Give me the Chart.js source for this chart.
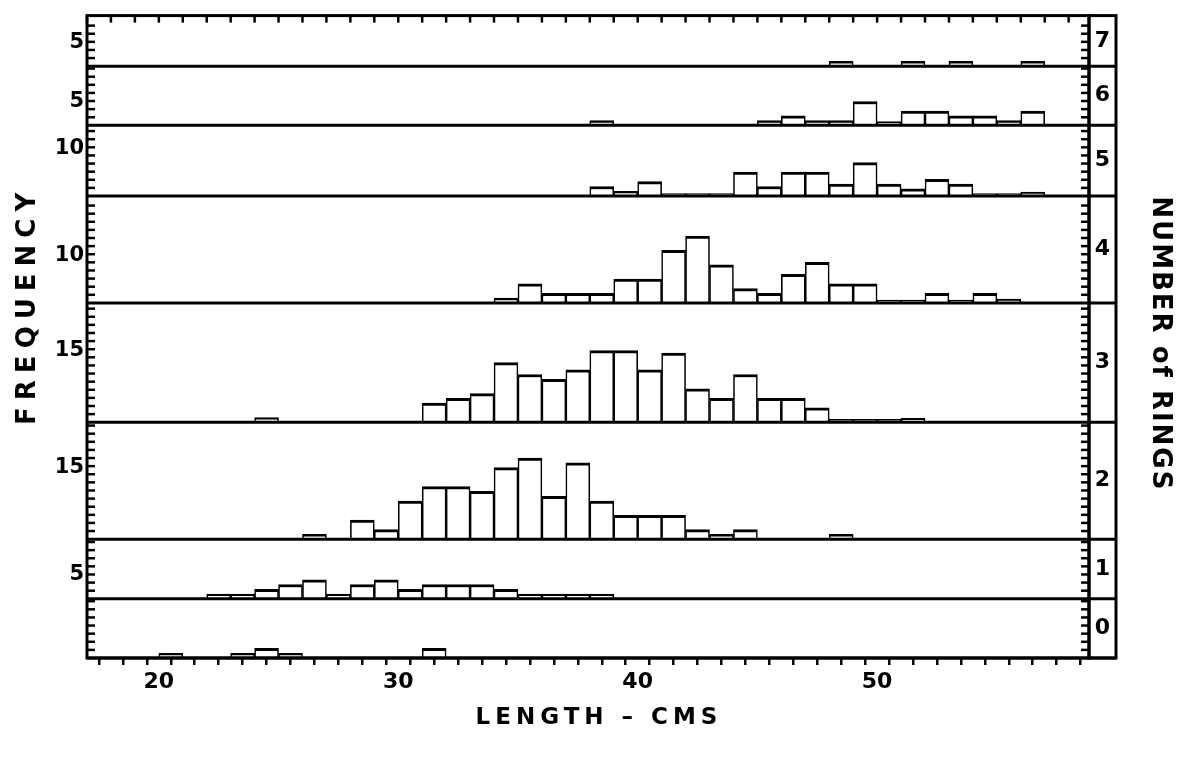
<!DOCTYPE html>
<html>
<head>
<meta charset="utf-8">
<title>Length frequency by number of rings</title>
<script src="https://cdn.jsdelivr.net/npm/chart.js@4.4.0/dist/chart.umd.min.js"></script>
<style>
  html, body { margin: 0; padding: 0; background: #fff; }
  #wrap { width: 1198px; height: 757px; }
</style>
</head>
<body>
<div id="wrap"><canvas id="ringChart" width="1198" height="757"></canvas></div>
<script>
// lower edge of each 1 cm length class
const lengthBins = [17, 18, 19, 20, 21, 22, 23, 24, 25, 26,
                    27, 28, 29, 30, 31, 32, 33, 34, 35, 36,
                    37, 38, 39, 40, 41, 42, 43, 44, 45, 46,
                    47, 48, 49, 50, 51, 52, 53, 54, 55, 56,
                    57, 58];

// frequency in each length class, one list per number of rings
//             17-26                          27-36                          37-46                              47-56                                 57-58
const ring0 = [0, 0, 0, 1, 0, 0, 1, 2, 1, 0,  0, 0, 0, 0, 2, 0, 0, 0, 0, 0,  0, 0, 0, 0, 0, 0, 0, 0, 0, 0,    0, 0, 0, 0, 0, 0, 0, 0, 0, 0,         0, 0];
const ring1 = [0, 0, 0, 0, 0, 1, 1, 2, 3, 4,  1, 3, 4, 2, 3, 3, 3, 2, 1, 1,  1, 1, 0, 0, 0, 0, 0, 0, 0, 0,    0, 0, 0, 0, 0, 0, 0, 0, 0, 0,         0, 0];
const ring2 = [0, 0, 0, 0, 0, 0, 0, 0, 0, 1,  0, 4, 2, 8, 11, 11, 10, 15, 17, 9,  16, 8, 5, 5, 5, 2, 1, 2, 0, 0,  0, 1, 0, 0, 0, 0, 0, 0, 0, 0,   0, 0];
const ring3 = [0, 0, 0, 0, 0, 0, 0, 1, 0, 0,  0, 0, 0, 0, 4, 5, 6, 12.5, 10, 9,  11, 15, 15, 11, 14.5, 7, 5, 10, 5, 5,  3, 0.6, 0.6, 0.6, 0.8, 0, 0, 0, 0, 0,  0, 0];
const ring4 = [0, 0, 0, 0, 0, 0, 0, 0, 0, 0,  0, 0, 0, 0, 0, 0, 0, 1, 4, 2,  2, 2, 5, 5, 11, 14, 8, 3, 2, 6,  8.5, 4, 4, 0.6, 0.6, 2, 0.6, 2, 0.8, 0,  0, 0];
const ring5 = [0, 0, 0, 0, 0, 0, 0, 0, 0, 0,  0, 0, 0, 0, 0, 0, 0, 0, 0, 0,  0, 2, 1, 3, 0.5, 0.5, 0.5, 5, 2, 5,  5, 2.5, 7, 2.5, 1.5, 3.5, 2.5, 0.5, 0.5, 0.8,  0, 0];
const ring6 = [0, 0, 0, 0, 0, 0, 0, 0, 0, 0,  0, 0, 0, 0, 0, 0, 0, 0, 0, 0,  0, 1, 0, 0, 0, 0, 0, 0, 1, 2,  1, 1, 5, 0.8, 3, 3, 2, 2, 1, 3,  0, 0];
const ring7 = [0, 0, 0, 0, 0, 0, 0, 0, 0, 0,  0, 0, 0, 0, 0, 0, 0, 0, 0, 0,  0, 0, 0, 0, 0, 0, 0, 0, 0, 0,  0, 1, 0, 0, 1, 0, 1, 0, 0, 1,  0, 0];

const ringCounts = [ring0, ring1, ring2, ring3, ring4, ring5, ring6, ring7];
const ringLabels = ['0', '1', '2', '3', '4', '5', '6', '7'];
// one labelled frequency per panel, and the top of each panel's frequency axis
const ringTickLabel = [null, 5, 15, 15, 10, 10, 5, 5];
const ringAxisMax = [12.4, 12.5, 24.5, 25, 22.4, 14.8, 12.4, 10.6];
const lengthTickLabels = [20, 30, 40, 50];

const FONT = "'DejaVu Sans', sans-serif";
const minorStep = 1.7; // spacing of the small frequency ticks
const labelColW = 27;  // width of the ring-number column

function line(ctx, x1, y1, x2, y2) {
  ctx.beginPath();
  ctx.moveTo(x1, y1);
  ctx.lineTo(x2, y2);
  ctx.stroke();
}

function spacedText(ctx, text, x, y, rot, size, spacing) {
  ctx.save();
  ctx.translate(x, y);
  ctx.rotate(rot);
  ctx.font = 'bold ' + size + 'px ' + FONT;
  ctx.letterSpacing = spacing + 'px';
  ctx.fillStyle = '#000';
  ctx.textAlign = 'center';
  ctx.textBaseline = 'middle';
  ctx.fillText(text, 0, 0);
  ctx.restore();
}

// frame, panel baselines, inward ticks, ring column and axis titles
const panelFrame = {
  id: 'panelFrame',
  afterDatasetsDraw(chart) {
    const { ctx, chartArea: a, scales } = chart;
    ctx.save();
    ctx.strokeStyle = '#000';
    ctx.lineCap = 'butt';

    ringLabels.forEach((lab, r) => {
      const s = scales['r' + r];
      const yBase = s.getPixelForValue(0);
      ctx.lineWidth = 3;
      line(ctx, a.left, yBase, a.right + labelColW, yBase);
      ctx.lineWidth = 2.5;
      for (let v = minorStep; v < ringAxisMax[r] - 0.5; v += minorStep) {
        const y = s.getPixelForValue(v);
        line(ctx, a.left, y, a.left + 8, y);
        line(ctx, a.right - 8, y, a.right, y);
      }
      ctx.fillStyle = '#000';
      ctx.font = 'bold 22px ' + FONT;
      ctx.textAlign = 'center';
      ctx.textBaseline = 'middle';
      ctx.fillText(lab, a.right + labelColW / 2, (s.top + s.bottom) / 2);
    });

    const xs = scales.x;
    ctx.lineWidth = 2.5;
    xs.ticks.forEach(t => {
      const x = xs.getPixelForValue(t.value);
      line(ctx, x, a.top, x, a.top + 7);
    });

    ctx.lineWidth = 3;
    ctx.strokeRect(a.left, a.top, a.width, a.height);
    ctx.strokeRect(a.right, a.top, labelColW, a.height);
    ctx.restore();

    spacedText(ctx, 'FREQUENCY', a.left - 59, a.top + a.height * 0.451, -Math.PI / 2, 26, 7);
    spacedText(ctx, 'NUMBER of RINGS', a.right + 71, a.top + a.height * 0.511, Math.PI / 2, 26, 2);
    spacedText(ctx, 'LENGTH \u2013 CMS', (a.left + a.right) / 2 + 11, 718, 0, 23, 5);
  }
};

const scales = {
  x: {
    type: 'linear',
    min: 17,
    max: 58.85,
    offset: false,
    grid: { display: true, drawOnChartArea: false, drawTicks: true, tickLength: 7, color: '#000', lineWidth: 2.5 },
    border: { display: false },
    ticks: {
      stepSize: 1,
      includeBounds: false,
      autoSkip: false,
      maxRotation: 0,
      padding: 4,
      color: '#000',
      font: { family: FONT, size: 22, weight: 'bold' },
      callback: v => lengthTickLabels.includes(v) ? String(v) : ''
    },
    afterFit: s => { s.height = 99; }
  }
};

ringLabels.forEach((lab, r) => {
  scales['r' + r] = {
    type: 'linear',
    position: 'left',
    stack: 'rings',
    stackWeight: ringAxisMax[r],
    min: 0,
    max: ringAxisMax[r],
    offset: false,
    grid: { display: false, drawTicks: false },
    border: { display: false },
    ticks: { padding: 3, color: '#000', font: { family: FONT, size: 21, weight: 'bold' } },
    afterBuildTicks: s => { s.ticks = ringTickLabel[r] ? [{ value: ringTickLabel[r] }] : []; },
    afterFit: s => { s.width = 50; }
  };
});

const datasets = ringCounts.map((counts, r) => ({
  label: ringLabels[r] + ' rings',
  yAxisID: 'r' + r,
  data: lengthBins.map((b, i) => ({ x: b + 0.5, y: counts[i] > 0 ? counts[i] : null })),
  backgroundColor: '#fff',
  borderColor: '#000',
  borderWidth: { top: 3, left: 1.6, right: 1.6, bottom: 0 },
  grouped: false,
  barPercentage: 1,
  categoryPercentage: 1
}));

new Chart(document.getElementById('ringChart'), {
  type: 'bar',
  data: { datasets: datasets },
  options: {
    responsive: false,
    animation: false,
    layout: { padding: { left: 37, right: 109, top: 12, bottom: 0 } },
    plugins: {
      legend: { display: false },
      tooltip: { enabled: false }
    },
    scales: scales
  },
  plugins: [panelFrame]
});
</script>
</body>
</html>
